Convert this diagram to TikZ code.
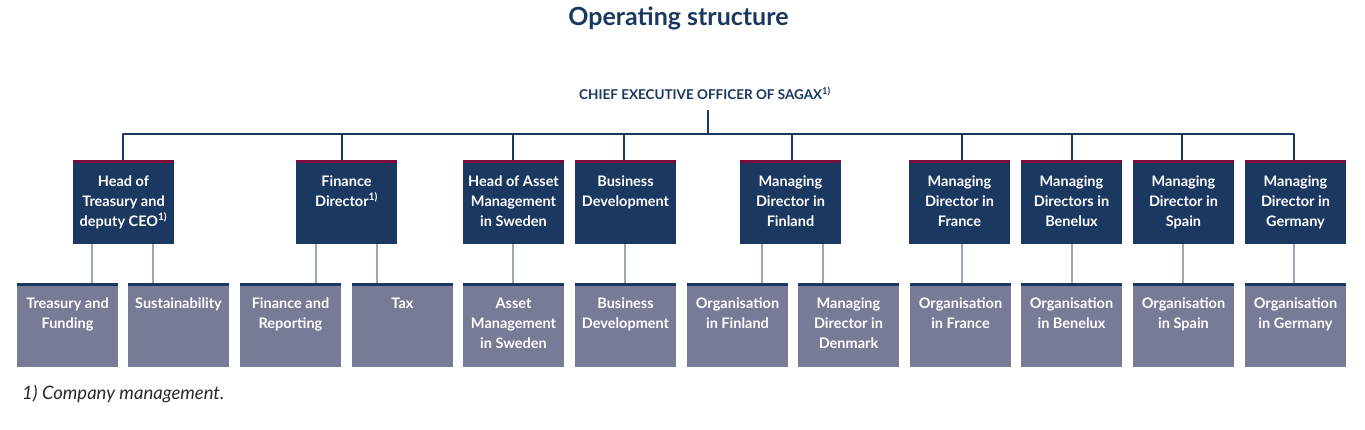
\documentclass[tikz,border=0pt]{standalone}
\usepackage{fontspec}
\setmainfont{Lato}
\definecolor{navy}{HTML}{1B3860}
\definecolor{maroon}{HTML}{7A0A3C}
\definecolor{grayfill}{HTML}{787B96}
\definecolor{lightline}{HTML}{9CA7BB}
\definecolor{foot}{HTML}{2A2A2A}
\newcommand{\boxtext}[2]{\parbox[c][84pt][t]{99pt}{\fontsize{14.5}{20}\selectfont\bfseries\centering\rule{0pt}{#1}#2\par}}
\tikzset{
  topbox/.style={rectangle, fill=navy, inner sep=0pt, minimum width=101pt, minimum height=84pt, anchor=north, text=white,
    path picture={\fill[maroon] (path picture bounding box.north west) rectangle ([yshift=-3pt]path picture bounding box.north east);}},
  botbox/.style={rectangle, fill=grayfill, inner sep=0pt, minimum width=101pt, minimum height=84pt, anchor=north, text=white,
    path picture={\fill[navy] (path picture bounding box.north west) rectangle ([yshift=-2.5pt]path picture bounding box.north east);}},
  topconn/.style={draw=navy, line width=2.8pt},
  lowconn/.style={draw=lightline, line width=2.8pt}
}
\begin{document}
\begin{tikzpicture}[x=1pt,y=-1pt]
\useasboundingbox[fill=white] (0,0) rectangle (1365,430);

\node[text=navy, font=\fontsize{25}{29}\selectfont\bfseries] (title) at (678.5,18) {Operating structure};
\node[text=navy, font=\fontsize{13.5}{16}\selectfont\bfseries, inner sep=0pt] (ceo) at (705,93) {CHIEF EXECUTIVE OFFICER OF SAGAX\textsuperscript{1)}};

% top level
\node[topbox] (t1) at (123.5,160) {\boxtext{26pt}{Head of\\Treasury and\\deputy CEO\textsuperscript{1)}}};
\node[topbox] (t2) at (346.5,160) {\boxtext{26pt}{Finance\\Director\textsuperscript{1)}}};
\node[topbox] (t3) at (513.5,160) {\boxtext{26pt}{Head of Asset\\Management\\in Sweden}};
\node[topbox] (t4) at (625.5,160) {\boxtext{26pt}{Business\\Development}};
\node[topbox] (t5) at (790.5,160) {\boxtext{26pt}{Managing\\Director in\\Finland}};
\node[topbox] (t6) at (959.5,160) {\boxtext{26pt}{Managing\\Director in\\France}};
\node[topbox] (t7) at (1071.5,160) {\boxtext{26pt}{Managing\\Directors in\\Benelux}};
\node[topbox] (t8) at (1183.5,160) {\boxtext{26pt}{Managing\\Director in\\Spain}};
\node[topbox] (t9) at (1295.5,160) {\boxtext{26pt}{Managing\\Director in\\Germany}};

% bottom level
\node[botbox] (b1) at (67.5,283) {\boxtext{25.5pt}{Treasury and\\Funding}};
\node[botbox] (b2) at (178.5,283) {\boxtext{25.5pt}{Sustainability}};
\node[botbox] (b3) at (290.5,283) {\boxtext{25.5pt}{Finance and\\Reporting}};
\node[botbox] (b4) at (402.5,283) {\boxtext{25.5pt}{Tax}};
\node[botbox] (b5) at (513.5,283) {\boxtext{25.5pt}{Asset\\Management\\in Sweden}};
\node[botbox] (b6) at (625.5,283) {\boxtext{25.5pt}{Business\\Development}};
\node[botbox] (b7) at (737.5,283) {\boxtext{25.5pt}{Organisation\\in Finland}};
\node[botbox] (b8) at (848.5,283) {\boxtext{25.5pt}{Managing\\Director in\\Denmark}};
\node[botbox] (b9) at (960.5,283) {\boxtext{25.5pt}{Organisation\\in France}};
\node[botbox] (b10) at (1071.5,283) {\boxtext{25.5pt}{Organisation\\in Benelux}};
\node[botbox] (b11) at (1183.5,283) {\boxtext{25.5pt}{Organisation\\in Spain}};
\node[botbox] (b12) at (1295.5,283) {\boxtext{25.5pt}{Organisation\\in Germany}};

% upper connectors
\coordinate (stem) at (708,110);
\coordinate (bar) at (708,134);
\draw[topconn] (stem) -- (bar);
\draw[topconn, line join=round] (bar) -| ([xshift=-0.5pt]t1.north);
\draw[topconn] (bar) -| ([xshift=-4.5pt]t2.north);
\draw[topconn] (bar) -| ([xshift=-0.5pt]t3.north);
\draw[topconn] (bar) -| ([xshift=-1.5pt]t4.north);
\draw[topconn] (bar) -| ([xshift=1.5pt]t5.north);
\draw[topconn] (bar) -| ([xshift=2.5pt]t6.north);
\draw[topconn] (bar) -| ([xshift=0.5pt]t7.north);
\draw[topconn] (bar) -| ([xshift=-1.5pt]t8.north);
\draw[topconn, line join=round] (bar) -| ([xshift=-1.5pt]t9.north);

% lower connectors
\draw[lowconn] ([xshift=-31.5pt]t1.south) -- ([xshift=-31.5pt]t1.south |- b1.north);
\draw[lowconn] ([xshift=29.5pt]t1.south) -- ([xshift=29.5pt]t1.south |- b2.north);
\draw[lowconn] ([xshift=-30.5pt]t2.south) -- ([xshift=-30.5pt]t2.south |- b3.north);
\draw[lowconn] ([xshift=30.5pt]t2.south) -- ([xshift=30.5pt]t2.south |- b4.north);
\draw[lowconn] ([xshift=-0.5pt]t3.south) -- ([xshift=-0.5pt]b5.north);
\draw[lowconn] ([xshift=-0.5pt]t4.south) -- ([xshift=-0.5pt]b6.north);
\draw[lowconn] ([xshift=-28.5pt]t5.south) -- ([xshift=-28.5pt]t5.south |- b7.north);
\draw[lowconn] ([xshift=32.5pt]t5.south) -- ([xshift=32.5pt]t5.south |- b8.north);
\draw[lowconn] ([xshift=2.5pt]t6.south) -- ([xshift=1.5pt]b9.north);
\draw[lowconn] ([xshift=0.5pt]t7.south) -- ([xshift=0.5pt]b10.north);
\draw[lowconn] ([xshift=-0.5pt]t8.south) -- ([xshift=-0.5pt]b11.north);
\draw[lowconn] ([xshift=-1.5pt]t9.south) -- ([xshift=-1.5pt]b12.north);

\node[anchor=west, text=foot, font=\fontsize{18.5}{20}\selectfont\itshape, inner sep=0pt] (note) at (22,394) {1) Company management.};
\end{tikzpicture}
\end{document}
